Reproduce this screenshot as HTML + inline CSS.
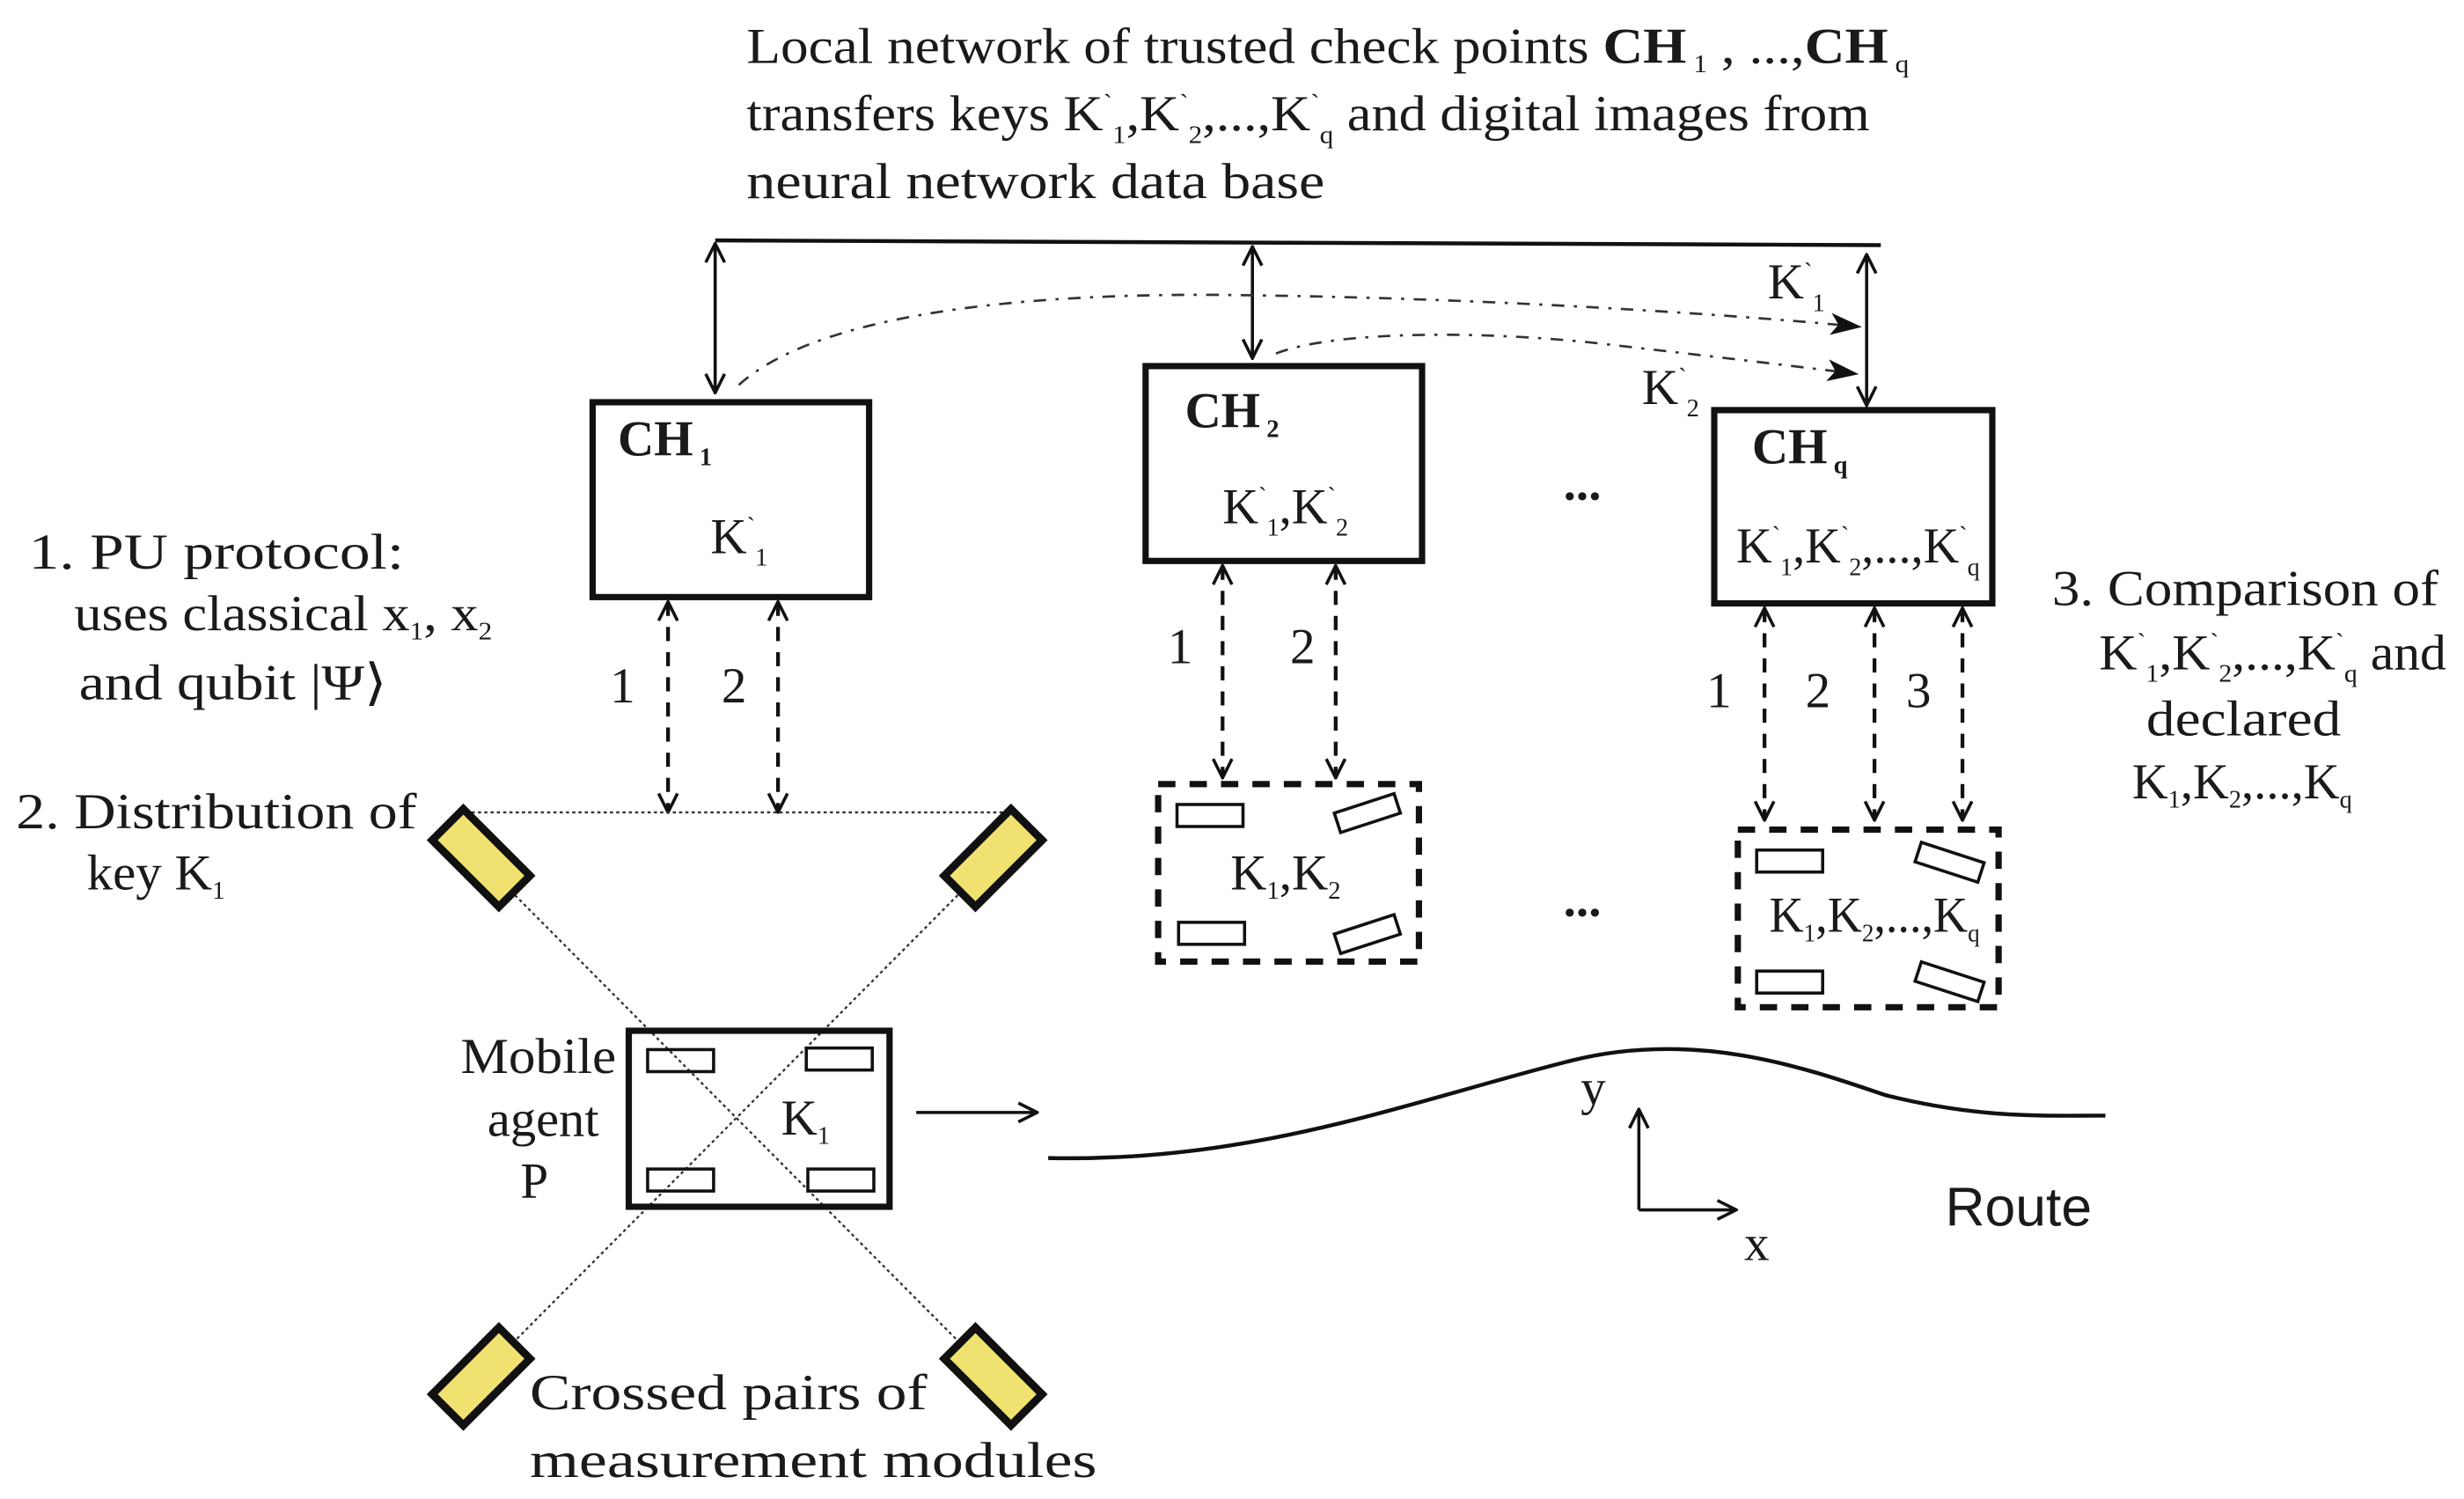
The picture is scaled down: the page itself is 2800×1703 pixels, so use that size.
<!DOCTYPE html>
<html><head><meta charset="utf-8"><style>html,body{margin:0;padding:0;background:#fff}svg{display:block}</style></head>
<body>
<svg width="2800" height="1703" viewBox="0 0 1568 954" xmlns="http://www.w3.org/2000/svg" font-family="'Liberation Serif', serif" fill="#1a1a1a">
<defs>
<marker id="v" viewBox="0 0 14 14" refX="13" refY="7" markerWidth="14" markerHeight="14" markerUnits="userSpaceOnUse" orient="auto-start-reverse"><path d="M1 1 L13 7 L1 13" fill="none" stroke="#111" stroke-width="2"/></marker>
<marker id="t" viewBox="0 0 20 14" refX="19" refY="7" markerWidth="20" markerHeight="14" markerUnits="userSpaceOnUse" orient="auto"><path d="M0 0 L20 7 L0 14 L5 7 Z" fill="#111"/></marker>
</defs>
<style>
.t{font-size:32px}
.s{font-size:16px}
.b{font-weight:bold}
</style>

<text class="t" x="475" y="40" textLength="740" lengthAdjust="spacingAndGlyphs">Local network of  trusted  check points <tspan class="b">CH</tspan><tspan class="s" dy="6"> 1</tspan><tspan dy="-6"> , ...,</tspan><tspan class="b">CH</tspan><tspan class="s" dy="6"> q</tspan></text>
<text class="t" x="475" y="83" textLength="715" lengthAdjust="spacingAndGlyphs">transfers keys K<tspan class="s" dy="-12">`</tspan><tspan class="s" dy="20">1</tspan><tspan dy="-8">,K</tspan><tspan class="s" dy="-12">`</tspan><tspan class="s" dy="20">2</tspan><tspan dy="-8">,...,K</tspan><tspan class="s" dy="-12">`</tspan><tspan class="s" dy="20">q</tspan><tspan dy="-8"> and digital images from</tspan></text>
<text class="t" x="475" y="126" textLength="368" lengthAdjust="spacingAndGlyphs">neural network data base</text>

<line x1="455" y1="153" x2="1197" y2="156" stroke="#111" stroke-width="2.5"/>
<line x1="455" y1="155" x2="455" y2="250" stroke="#111" stroke-width="2" marker-start="url(#v)" marker-end="url(#v)"/>
<line x1="797" y1="157" x2="797" y2="228" stroke="#111" stroke-width="2" marker-start="url(#v)" marker-end="url(#v)"/>
<line x1="1188" y1="162" x2="1188" y2="258" stroke="#111" stroke-width="2" marker-start="url(#v)" marker-end="url(#v)"/>

<path d="M470 245 C520 200 650 185 800 188 C950 190 1100 200 1184 208" fill="none" stroke="#333" stroke-width="1.5" stroke-dasharray="8 6 2 6" marker-end="url(#t)"/>
<path d="M812 225 C850 210 950 210 1030 220 C1100 228 1150 234 1182 238" fill="none" stroke="#333" stroke-width="1.5" stroke-dasharray="8 6 2 6" marker-end="url(#t)"/>
<text class="t" x="1125" y="190" font-size="29">K<tspan class="s" dy="-12">`</tspan><tspan class="s" dy="20">1</tspan></text>
<text class="t" x="1045" y="257" font-size="29">K<tspan class="s" dy="-12">`</tspan><tspan class="s" dy="20">2</tspan></text>

<rect x="377" y="256" width="176" height="124" fill="none" stroke="#111" stroke-width="4"/>
<rect x="729" y="233" width="176" height="124" fill="none" stroke="#111" stroke-width="4"/>
<rect x="1091" y="261" width="177" height="123" fill="none" stroke="#111" stroke-width="4"/>
<text class="t b" x="393" y="290">CH<tspan class="s" dy="6"> 1</tspan></text>
<text class="t b" x="754" y="272">CH<tspan class="s" dy="6"> 2</tspan></text>
<text class="t b" x="1115" y="295">CH<tspan class="s" dy="6"> q</tspan></text>
<text class="t" x="452" y="352">K<tspan class="s" dy="-12">`</tspan><tspan class="s" dy="20">1</tspan></text>
<text class="t" x="778" y="333" textLength="80" lengthAdjust="spacingAndGlyphs">K<tspan class="s" dy="-12">`</tspan><tspan class="s" dy="20">1</tspan><tspan dy="-8">,K</tspan><tspan class="s" dy="-12">`</tspan><tspan class="s" dy="20">2</tspan></text>
<text class="t" x="1105" y="358" textLength="155" lengthAdjust="spacingAndGlyphs">K<tspan class="s" dy="-12">`</tspan><tspan class="s" dy="20">1</tspan><tspan dy="-8">,K</tspan><tspan class="s" dy="-12">`</tspan><tspan class="s" dy="20">2</tspan><tspan dy="-8">,...,K</tspan><tspan class="s" dy="-12">`</tspan><tspan class="s" dy="20">q</tspan></text>

<text class="t b" x="995" y="318">...</text>
<text class="t b" x="995" y="583">...</text>

<g stroke="#111" stroke-width="2.4" stroke-dasharray="9 7" marker-start="url(#v)" marker-end="url(#v)">
<line x1="425" y1="383" x2="425" y2="517"/>
<line x1="495" y1="383" x2="495" y2="517"/>
<line x1="778" y1="360" x2="778" y2="495"/>
<line x1="850" y1="360" x2="850" y2="495"/>
<line x1="1123" y1="387" x2="1123" y2="522"/>
<line x1="1193" y1="387" x2="1193" y2="522"/>
<line x1="1249" y1="387" x2="1249" y2="522"/>
</g>
<g class="t" font-size="30">
<text x="388" y="447">1</text><text x="459" y="447">2</text>
<text x="743" y="422">1</text><text x="821" y="422">2</text>
<text x="1086" y="450">1</text><text x="1149" y="450">2</text><text x="1213" y="450">3</text>
</g>

<rect x="737" y="499" width="166" height="113" fill="none" stroke="#111" stroke-width="4" stroke-dasharray="11 9"/>
<rect x="1106" y="528" width="166" height="113" fill="none" stroke="#111" stroke-width="4" stroke-dasharray="11 9"/>
<g fill="#fff" stroke="#111" stroke-width="2">
<rect x="749" y="512" width="42" height="14"/>
<rect x="850" y="511" width="40" height="13" transform="rotate(-18 870 517)"/>
<rect x="750" y="587" width="42" height="14"/>
<rect x="850" y="588" width="40" height="13" transform="rotate(-18 870 594)"/>
<rect x="1118" y="541" width="42" height="14"/>
<rect x="1220" y="542" width="42" height="13" transform="rotate(18 1240 548)"/>
<rect x="1118" y="618" width="42" height="14"/>
<rect x="1220" y="618" width="42" height="13" transform="rotate(18 1240 624)"/>
</g>
<text class="t" x="783" y="566">K<tspan class="s" dy="6">1</tspan><tspan dy="-6">,K</tspan><tspan class="s" dy="6">2</tspan></text>
<text class="t" x="1126" y="593" textLength="134" lengthAdjust="spacingAndGlyphs">K<tspan class="s" dy="6">1</tspan><tspan dy="-6">,K</tspan><tspan class="s" dy="6">2</tspan><tspan dy="-6">,...,K</tspan><tspan class="s" dy="6">q</tspan></text>

<line x1="300" y1="517" x2="640" y2="517" stroke="#333" stroke-width="1.3" stroke-dasharray="2 2"/>
<line x1="305" y1="547" x2="632" y2="876" stroke="#333" stroke-width="1.3" stroke-dasharray="2 2"/>
<line x1="632" y1="547" x2="305" y2="876" stroke="#333" stroke-width="1.3" stroke-dasharray="2 2"/>

<g fill="#efe270" stroke="#111" stroke-width="5">
<rect x="276" y="532" width="60" height="28" transform="rotate(45 306 546)"/>
<rect x="602" y="532" width="60" height="28" transform="rotate(-45 632 546)"/>
<rect x="276" y="862" width="60" height="28" transform="rotate(-45 306 876)"/>
<rect x="602" y="862" width="60" height="28" transform="rotate(45 632 876)"/>
</g>

<rect x="400" y="656" width="166" height="112" fill="none" stroke="#111" stroke-width="4"/>
<g fill="none" stroke="#111" stroke-width="2">
<rect x="412" y="668" width="42" height="14"/>
<rect x="513" y="667" width="42" height="14"/>
<rect x="412" y="744" width="42" height="14"/>
<rect x="514" y="744" width="42" height="14"/>
</g>
<text class="t" x="497" y="722">K<tspan class="s" dy="6">1</tspan></text>
<text class="t" x="293" y="683" textLength="99" lengthAdjust="spacingAndGlyphs">Mobile</text>
<text class="t" x="310" y="723" textLength="71" lengthAdjust="spacingAndGlyphs">agent</text>
<text class="t" x="331" y="762">P</text>
<line x1="583" y1="708" x2="660" y2="708" stroke="#111" stroke-width="2" marker-end="url(#v)"/>

<path d="M667 737 C800 740 900 700 1000 675 C1080 655 1150 680 1200 697 C1260 712 1300 710 1340 710" fill="none" stroke="#111" stroke-width="2.5"/>
<line x1="1043" y1="770" x2="1043" y2="706" stroke="#111" stroke-width="2" marker-end="url(#v)"/>
<line x1="1043" y1="770" x2="1105" y2="770" stroke="#111" stroke-width="2" marker-end="url(#v)"/>
<text class="t" x="1006" y="703">y</text>
<text class="t" x="1110" y="802">x</text>
<text x="1238" y="780" font-family="'Liberation Sans', sans-serif" font-size="35">Route</text>

<text class="t" x="18" y="362" textLength="239" lengthAdjust="spacingAndGlyphs">1. PU protocol:</text>
<text class="t" x="47" y="401" textLength="266" lengthAdjust="spacingAndGlyphs">uses classical x<tspan class="s" dy="6">1</tspan><tspan dy="-6">, x</tspan><tspan class="s" dy="6">2</tspan></text>
<text class="t" x="50" y="445" textLength="196" lengthAdjust="spacingAndGlyphs">and qubit |Ψ⟩</text>
<text class="t" x="10" y="527" textLength="255" lengthAdjust="spacingAndGlyphs">2.  Distribution of</text>
<text class="t" x="55" y="566" textLength="88" lengthAdjust="spacingAndGlyphs">key K<tspan class="s" dy="6">1</tspan></text>

<text class="t" x="1306" y="385" textLength="246" lengthAdjust="spacingAndGlyphs">3. Comparison of</text>
<text class="t" x="1336" y="426" textLength="221" lengthAdjust="spacingAndGlyphs">K<tspan class="s" dy="-12">`</tspan><tspan class="s" dy="20">1</tspan><tspan dy="-8">,K</tspan><tspan class="s" dy="-12">`</tspan><tspan class="s" dy="20">2</tspan><tspan dy="-8">,...,K</tspan><tspan class="s" dy="-12">`</tspan><tspan class="s" dy="20">q</tspan><tspan dy="-8">  and</tspan></text>
<text class="t" x="1366" y="468" textLength="124" lengthAdjust="spacingAndGlyphs">declared</text>
<text class="t" x="1357" y="508" textLength="140" lengthAdjust="spacingAndGlyphs">K<tspan class="s" dy="6">1</tspan><tspan dy="-6">,K</tspan><tspan class="s" dy="6">2</tspan><tspan dy="-6">,...,K</tspan><tspan class="s" dy="6">q</tspan></text>

<text class="t" x="337" y="897" textLength="253" lengthAdjust="spacingAndGlyphs">Crossed pairs of</text>
<text class="t" x="337" y="940" textLength="361" lengthAdjust="spacingAndGlyphs">measurement modules</text>
</svg>
</body></html>
